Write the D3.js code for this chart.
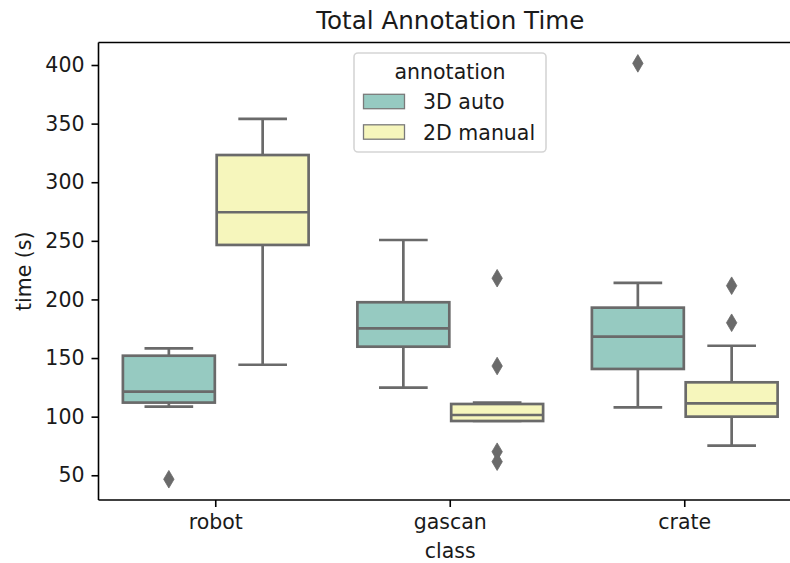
<!DOCTYPE html>
<html>
<head>
<meta charset="utf-8">
<script src="https://cdn.jsdelivr.net/npm/d3@7/dist/d3.min.js"></script>
<style>
  html, body { margin: 0; padding: 0; background: #ffffff; }
  svg { display: block; font-family: "DejaVu Sans", sans-serif; }
</style>
</head>
<body>
<svg id="chart" width="790" height="563"></svg>
<script>
// ---- data ----
const categories = ["robot", "gascan", "crate"];
const hues = ["3D auto", "2D manual"];
const hueColors = ["#96cac1", "#f6f6bc"];
// five-number boxplot summaries: [lowerWhisker, q1, median, q3, upperWhisker]
const auto3D = [
  [108.5, 112, 121.3, 152, 158.3],
  [124.7, 159.7, 175.4, 197.6, 250.7],
  [108, 140.7, 168.2, 193, 214.2]
];
const manual2D = [
  [144.3, 246.5, 274.4, 323.2, 354],
  [96.3, 96.3, 101.4, 110.8, 111.9],
  [75.3, 100, 111.4, 129.3, 160.5]
];
const auto3DOutliers = [[46.6], [], [401.4]];
const manual2DOutliers = [[], [218.1, 143.2, 70.1, 61.6], [211.7, 180.1]];
const yTicks = [50, 100, 150, 200, 250, 300, 350, 400];
const titleText = "Total Annotation Time";
const xLabel = "class";
const yLabel = "time (s)";
const legendTitle = "annotation";

(function () {
// ---- layout ----
const svg = d3.select("#chart");
const mLeft = 98.5, mRight = 802, mTop = 42.5, mBottom = 500;
const lineColor = "#6a6a6a";
const fontSize = 20.5;

const x = d3.scaleBand().domain(categories).range([mLeft, mRight]).paddingInner(0).paddingOuter(0);
const y = d3.scaleLinear().domain([28.9, 419.2]).range([mBottom, mTop]);
const hueScale = d3.scaleBand().domain(hues).range([-0.4, 0.4]).paddingInner(0);

const series = [auto3D, manual2D];
const outliers = [auto3DOutliers, manual2DOutliers];

const plot = svg.append("g");
const bw = x.bandwidth();
const boxW = hueScale.bandwidth() * bw * 0.98;
const capW = boxW * 0.5;
const lw = 2.7;

hues.forEach((h, hi) => {
  categories.forEach((c, ci) => {
    const s = series[hi][ci];
    const cx = x(c) + bw / 2 + (hueScale(h) + hueScale.bandwidth() / 2) * bw;
    const g = plot.append("g");
    g.append("line").attr("x1", cx).attr("x2", cx).attr("y1", y(s[3])).attr("y2", y(s[4]))
      .attr("stroke", lineColor).attr("stroke-width", lw);
    g.append("line").attr("x1", cx).attr("x2", cx).attr("y1", y(s[1])).attr("y2", y(s[0]))
      .attr("stroke", lineColor).attr("stroke-width", lw);
    [s[0], s[4]].forEach(v => {
      g.append("line").attr("x1", cx - capW / 2).attr("x2", cx + capW / 2)
        .attr("y1", y(v)).attr("y2", y(v))
        .attr("stroke", lineColor).attr("stroke-width", lw).attr("stroke-linecap", "square");
    });
    g.append("rect").attr("x", cx - boxW / 2).attr("width", boxW)
      .attr("y", y(s[3])).attr("height", y(s[1]) - y(s[3]))
      .attr("fill", hueColors[hi]).attr("stroke", lineColor).attr("stroke-width", lw);
    g.append("line").attr("x1", cx - boxW / 2).attr("x2", cx + boxW / 2)
      .attr("y1", y(s[2])).attr("y2", y(s[2]))
      .attr("stroke", lineColor).attr("stroke-width", lw);
    const hw = 5.2, hh = 8.8;
    outliers[hi][ci].forEach(v => {
      const py = y(v);
      g.append("path")
        .attr("d", `M${cx},${py - hh}L${cx + hw},${py}L${cx},${py + hh}L${cx - hw},${py}Z`)
        .attr("fill", lineColor).attr("stroke", lineColor).attr("stroke-width", 0.8);
    });
  });
});

// ---- axes ----
const yAxis = svg.append("g").attr("transform", `translate(${mLeft},0)`)
  .call(d3.axisLeft(y).tickValues(yTicks).tickSize(7).tickPadding(7).tickSizeOuter(0));
const xAxis = svg.append("g").attr("transform", `translate(0,${mBottom})`)
  .call(d3.axisBottom(x).tickSize(7).tickPadding(7).tickSizeOuter(0));
[xAxis, yAxis].forEach(a => {
  a.select(".domain").remove();
  a.selectAll(".tick line").attr("stroke", "#000").attr("stroke-width", 1.6);
  a.selectAll(".tick text").attr("fill", "#1a1a1a").style("font-size", fontSize + "px")
    .style("font-family", "DejaVu Sans");
});

// spines
svg.append("line").attr("x1", mLeft).attr("x2", mLeft).attr("y1", mTop).attr("y2", mBottom)
  .attr("stroke", "#000").attr("stroke-width", 1.6);
svg.append("line").attr("x1", mLeft).attr("x2", mRight).attr("y1", mBottom).attr("y2", mBottom)
  .attr("stroke", "#000").attr("stroke-width", 1.6);
svg.append("line").attr("x1", mLeft).attr("x2", mRight).attr("y1", mTop).attr("y2", mTop)
  .attr("stroke", "#000").attr("stroke-width", 1.6);

// ---- labels ----
const midX = (mLeft + mRight) / 2;
svg.append("text").attr("x", midX).attr("y", 29).attr("text-anchor", "middle")
  .attr("fill", "#1a1a1a").style("font-size", "24.6px").text(titleText);
svg.append("text").attr("x", midX).attr("y", 558).attr("text-anchor", "middle")
  .attr("fill", "#1a1a1a").style("font-size", fontSize + "px").text(xLabel);
svg.append("text").attr("transform", `translate(31,${(mTop + mBottom) / 2}) rotate(-90)`)
  .attr("text-anchor", "middle").attr("fill", "#1a1a1a").style("font-size", fontSize + "px").text(yLabel);

// ---- legend ----
const lg = svg.append("g");
lg.append("rect").attr("x", 354).attr("y", 53).attr("width", 192).attr("height", 99)
  .attr("rx", 4).attr("fill", "#ffffff").attr("fill-opacity", 0.8)
  .attr("stroke", "#d5d5d5").attr("stroke-width", 1.6);
lg.append("text").attr("x", 450).attr("y", 78.5).attr("text-anchor", "middle")
  .attr("fill", "#1a1a1a").style("font-size", fontSize + "px").text(legendTitle);
hues.forEach((h, i) => {
  const cy = 101.5 + i * 30.5;
  lg.append("rect").attr("x", 363.5).attr("y", cy - 7.2).attr("width", 41).attr("height", 14.4)
    .attr("fill", hueColors[i]).attr("stroke", "#7a7a7a").attr("stroke-width", 1.3);
  lg.append("text").attr("x", 423).attr("y", cy + 7.5)
    .attr("fill", "#1a1a1a").style("font-size", fontSize + "px").text(h);
});
})();
</script>
</body>
</html>
